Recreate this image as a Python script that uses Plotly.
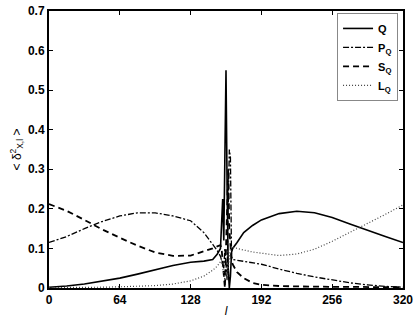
import plotly.graph_objects as go

# lattice index l
l_vals = [0, 16, 32, 48, 64, 80, 96, 112, 128, 140, 148, 152, 155, 156, 157, 158, 159, 160,
          161, 162, 163, 164, 165, 166, 170, 176, 184, 192, 208, 224, 240, 256, 272, 288, 304, 320]

q_vals = [0.002, 0.005, 0.010, 0.017, 0.025, 0.035, 0.046, 0.057, 0.065, 0.068, 0.072, 0.085, 0.10,
          0.15, 0.225, 0.12, 0.30, 0.55, 0.25, 0.05, 0.0, 0.03, 0.09, 0.10, 0.115, 0.14, 0.158,
          0.172, 0.188, 0.194, 0.19, 0.178, 0.162, 0.145, 0.13, 0.115]

p_vals = [0.115, 0.13, 0.15, 0.168, 0.182, 0.19, 0.19, 0.182, 0.17, 0.14, 0.11, 0.095, 0.08,
          0.07, 0.06, 0.05, 0.10, 0.05, 0.02, 0.20, 0.35, 0.33, 0.08, 0.072, 0.07, 0.067, 0.064,
          0.06, 0.048, 0.037, 0.028, 0.02, 0.013, 0.008, 0.004, 0.002]

s_vals = [0.212, 0.195, 0.172, 0.148, 0.127, 0.107, 0.09, 0.081, 0.082, 0.092, 0.10, 0.105, 0.108,
          0.10, 0.06, 0.02, 0.0, 0.10, 0.25, 0.30, 0.15, 0.10, 0.07, 0.06, 0.04, 0.025, 0.013,
          0.008, 0.005, 0.004, 0.003, 0.003, 0.003, 0.002, 0.002, 0.002]

lq_vals = [0.001, 0.001, 0.002, 0.002, 0.003, 0.004, 0.006, 0.010, 0.018, 0.03, 0.045, 0.055, 0.065,
           0.07, 0.05, 0.03, 0.02, 0.04, 0.02, 0.05, 0.08, 0.10, 0.105, 0.104, 0.10, 0.096, 0.091,
           0.088, 0.082, 0.086, 0.098, 0.118, 0.14, 0.163, 0.186, 0.21]

x_ticks = [0, 64, 128, 192, 256, 320]
y_ticks = [0, 0.1, 0.2, 0.3, 0.4, 0.5, 0.6, 0.7]

series = [
    ('Q', q_vals, dict(color='black', width=1.6, dash='solid')),
    ('P<sub>Q</sub>', p_vals, dict(color='black', width=1.3, dash='6px,2px,2px,2px')),
    ('S<sub>Q</sub>', s_vals, dict(color='black', width=1.8, dash='6px,4px')),
    ('L<sub>Q</sub>', lq_vals, dict(color='#444', width=1.2, dash='1px,2px')),
]

fig = go.Figure()
for name, vals, line in series:
    fig.add_trace(go.Scatter(x=l_vals, y=vals, mode='lines', name=name, line=line))

axis_common = dict(
    showline=True, linecolor='black', linewidth=2, mirror='allticks',
    ticks='inside', ticklen=4, tickcolor='black', showgrid=False, zeroline=False,
    automargin=False,
    tickfont=dict(family='Liberation Sans', size=12, color='black', weight='bold'),
)

fig.update_layout(
    width=415, height=320,
    margin=dict(l=49, r=12, t=11, b=32),
    plot_bgcolor='white', paper_bgcolor='white',
    showlegend=True,
    legend=dict(
        x=0.986, y=0.993, xanchor='right', yanchor='top',
        bordercolor='#888', borderwidth=1, bgcolor='white',
        font=dict(family='Liberation Sans', size=11, color='black', weight='bold'),
        tracegroupgap=0, itemwidth=30,
    ),
    xaxis=dict(range=[0, 320], tickvals=x_ticks, ticktext=[str(t) for t in x_ticks],
               title=dict(text='<i>l</i>', standoff=0,
                          font=dict(family='Liberation Sans', size=12, color='black')),
               **axis_common),
    yaxis=dict(range=[0, 0.7], tickvals=y_ticks, ticktext=['0'] + [f'{t:.1f}' for t in y_ticks[1:]],
               title=dict(text='&lt; δ<sup>2</sup><sub>X,l</sub> &gt;', standoff=4,
                          font=dict(family='Liberation Sans', size=12, color='black')),
               **axis_common),
)

# page body has a default 8px margin, drop it so the figure sits at 0,0
fig.write_html("out.html", config={'displayModeBar': False},
               post_script="document.body.style.margin='0';")
